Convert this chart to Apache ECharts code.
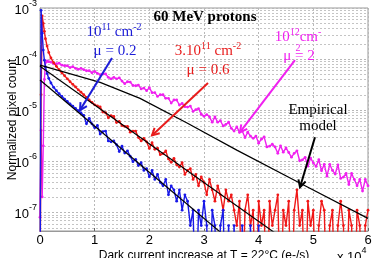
<!DOCTYPE html>
<html><head><meta charset="utf-8">
<script src="https://cdn.jsdelivr.net/npm/echarts@6.0.0/dist/echarts.min.js"></script>
<style>html,body{margin:0;padding:0;background:#fff;}#c{width:372px;height:258px;}</style>
</head><body><div id="c"></div>
<script>
// x positions (units of 1e4 e-/s)
const xs = [0,0.02,0.04,0.06,0.08,0.1,0.13,0.16,
0.2,0.25,0.3,0.35,0.4,0.45,0.5,0.55,0.6,0.65,0.7,0.75,
0.8,0.85,0.9,0.95,1.0,1.05,1.1,1.15,1.2,1.25,1.3,1.35,1.4,1.45,1.5,1.55,1.6,1.65,1.7,1.75,
1.8,1.85,1.9,1.95,2.0,2.05,2.1,2.15,2.2,2.25,2.3,2.35,2.4,2.45,2.5,2.55,2.6,2.65,2.7,2.75,
2.8,2.85,2.9,2.95,3.0,3.05,3.1,3.15,3.2,3.25,3.3,3.35,3.4,3.45,3.5,3.55,3.6,3.65,3.7,3.75,
3.8,3.85,3.9,3.95,4.0,4.05,4.1,4.15,4.2,4.25,4.3,4.35,4.4,4.45,4.5,4.55,4.6,4.65,4.7,4.75,
4.8,4.85,4.9,4.95,5.0,5.05,5.1,5.15,5.2,5.25,5.3,5.35,5.4,5.45,5.5,5.55,5.6,5.65,5.7,5.75,
5.8,5.85,5.9,5.95,6.0];
const ZERO = 1e-9; // empty bin (drawn off-scale)
const blue = [ZERO,9e-4,3.2e-4,1.5e-4,9.5e-5,7e-5,5.2e-5,4.2e-5,
3.4e-5,2.8e-5,2.4e-5,2.1e-5,1.85e-5,1.65e-5,1.48e-5,1.32e-5,1.2e-5,1.08e-5,9.8e-6,8.8e-6,
7.9e-6,5.4e-6,6.9e-6,5.4e-6,4.5e-6,5.0e-6,3.4e-6,3.8e-6,3.9e-6,2.5e-6,2.4e-6,2.5e-6,2.1e-6,1.55e-6,1.97e-6,1.44e-6,1.6e-6,1.25e-6,9.8e-7,1.09e-6,
8.25e-7,9.35e-7,6.6e-7,7.15e-7,4.95e-7,6.6e-7,4.4e-7,5.5e-7,3.85e-7,3.3e-7,4.4e-7,2.2e-7,3.3e-7,2.75e-7,1.65e-7,2.75e-7,1.1e-7,2.2e-7,1.65e-7,5.5e-8,
1.1e-7,ZERO,1.1e-7,5.5e-8,1.65e-7,5.5e-8,ZERO,1.1e-7,5.5e-8,ZERO,5.5e-8,1.1e-7,ZERO,5.5e-8,ZERO,5.5e-8,ZERO,ZERO,5.5e-8,ZERO,
ZERO,5.5e-8,ZERO,ZERO,5.5e-8,ZERO];
const red = [ZERO,2e-5,7e-4,5e-4,3.5e-4,2.5e-4,1.8e-4,1.35e-4,
1.05e-4,8.5e-5,7.2e-5,6.2e-5,5.4e-5,4.7e-5,4.1e-5,3.6e-5,3.2e-5,2.85e-5,2.5e-5,2.25e-5,
2.0e-5,1.78e-5,1.58e-5,1.42e-5,1.27e-5,1.21e-5,1.16e-5,9.2e-6,8.9e-6,7.1e-6,7.8e-6,7.5e-6,5.7e-6,6.0e-6,5.0e-6,4.8e-6,4.8e-6,3.7e-6,3.9e-6,3.9e-6,
2.9e-6,2.5e-6,2.8e-6,2.4e-6,1.78e-6,2.3e-6,1.71e-6,1.8e-6,1.34e-6,1.41e-6,1.59e-6,1.11e-6,9.5e-7,1.14e-6,8.5e-7,7.7e-7,9.35e-7,5.5e-7,6.6e-7,7.15e-7,
4.4e-7,5.5e-7,3.3e-7,4.95e-7,3.85e-7,2.2e-7,4.4e-7,2.75e-7,1.65e-7,3.3e-7,2.2e-7,1.1e-7,2.75e-7,1.65e-7,2.2e-7,1.1e-7,5.5e-8,1.65e-7,ZERO,1.1e-7,
2.2e-7,5.5e-8,1.1e-7,ZERO,1.65e-7,5.5e-8,1.1e-7,ZERO,1.65e-7,5.5e-8,1.1e-7,2.2e-7,ZERO,1.1e-7,5.5e-8,1.65e-7,ZERO,1.1e-7,2.75e-7,5.5e-8,
1.1e-7,ZERO,1.65e-7,5.5e-8,1.1e-7,ZERO,5.5e-8,1.65e-7,1.1e-7,ZERO,5.5e-8,1.1e-7,ZERO,5.5e-8,1.65e-7,5.5e-8,ZERO,1.1e-7,5.5e-8,ZERO,
1.1e-7,5.5e-8,ZERO,5.5e-8,1.1e-7];
const magenta = [8e-8,4e-6,2e-7,2e-6,4e-5,8.5e-5,9.2e-5,8.9e-5,
8.7e-5,8.1e-5,8.1e-5,8.3e-5,7.6e-5,7.4e-5,7.4e-5,6.8e-5,7.1e-5,6.6e-5,6.3e-5,6.6e-5,
6.2e-5,5.9e-5,5.9e-5,5.4e-5,5.75e-5,5.25e-5,4.95e-5,5.1e-5,5.1e-5,4.4e-5,4.1e-5,4.4e-5,4.1e-5,4.3e-5,3.7e-5,3.3e-5,3.6e-5,3.55e-5,3.05e-5,3.0e-5,
3.1e-5,2.6e-5,2.7e-5,2.4e-5,2.75e-5,2.2e-5,2.2e-5,1.86e-5,2.0e-5,2.0e-5,1.7e-5,1.7e-5,1.38e-5,1.58e-5,1.58e-5,1.26e-5,1.35e-5,1.17e-5,1.15e-5,1.2e-5,
9.5e-6,1.02e-5,1.07e-5,8.3e-6,7.6e-6,8.2e-6,7.4e-6,5.8e-6,7.4e-6,5.8e-6,6.2e-6,4.9e-6,5.25e-6,5.8e-6,4.4e-6,3.9e-6,4.7e-6,3.7e-6,3.9e-6,2.9e-6,
3.7e-6,3.1e-6,2.8e-6,3.1e-6,2.25e-6,2.7e-6,3.0e-6,1.9e-6,1.97e-6,2.15e-6,1.9e-6,1.43e-6,2.0e-6,1.5e-6,1.82e-6,1.48e-6,1.2e-6,1.43e-6,1.6e-6,1.02e-6,
1.06e-6,1.19e-6,8.0e-7,1.15e-6,9.3e-7,7.9e-7,1.07e-6,6.5e-7,8.7e-7,5.1e-7,8.7e-7,6.6e-7,5.6e-7,8.5e-7,4.6e-7,4.9e-7,5.75e-7,3.5e-7,5.75e-7,4.4e-7,
3.3e-7,4.4e-7,2.6e-7,4.4e-7,3.3e-7];
// empirical model curves
const modelBlueX = [0, 3.4];
const modelBlueY = [3.9e-5, 3.3e-8];
const modelRedX = [0, 4.4];
const modelRedY = [7.2e-5, 3.3e-8];
const modelMagX = [0, 1.1, 1.83, 2.69, 3.6, 4.76, 6.0];
const modelMagY = [7.6e-5, 3.5e-5, 1.7e-5, 5.6e-6, 1.65e-6, 3.7e-7, 7.6e-8];
const yMin = 4.3e-8, yMax = 1e-3;
const xMin = 0, xMax = 6;
const decades = [-8,-7,-6,-5,-4];
const minorMult = [2,3,4,5,6,7,8,9];
// annotation arrows in data coordinates [from, to]
const arrowBlue = [[1.317, 1.05e-4], [0.732, 1.0e-5]];
const arrowRed = [[3.073, 3.4e-5], [2.049, 3.2e-6]];
const arrowMag = [[4.664, 9.5e-5], [3.658, 3.7e-6]];
const arrowModel = [[5.03, 2.95e-6], [4.756, 3.1e-7]];

function pts(xa, ya) { return ya.map((v, i) => [xa[i], v]); }
const chart = echarts.init(document.getElementById('c'), null, {renderer: 'canvas'});
const SANS = 'Liberation Sans, Arial, sans-serif';
const SERIF = 'Liberation Serif, Times New Roman, serif';
const gridLine = {show: true, lineStyle: {color: '#b8b8b8', type: [2, 2], width: 1}};
function dataSeries(name, ys, color, z) {
  return {name, type: 'line', data: pts(xs, ys), z, clip: true, showAllSymbol: true,
    symbol: 'circle', symbolSize: 2.8, itemStyle: {color},
    lineStyle: {color, width: 1.4}, animation: false, silent: true};
}
function modelSeries(xa, ya) {
  return {type: 'line', data: pts(xa, ya), z: 10, clip: true, symbol: 'none',
    lineStyle: {color: '#000', width: 1.2}, animation: false, silent: true};
}
const option = {
  animation: false,
  backgroundColor: '#fff',
  grid: {left: 40, right: 4, top: 8, bottom: 27, show: true, borderColor: '#999', borderWidth: 1, containLabel: false, outerBoundsMode: 'none'},
  xAxis: {type: 'value', min: xMin, max: xMax, interval: 1,
    axisLine: {show: true, lineStyle: {color: '#999'}},
    axisTick: {show: true, inside: true, length: 3, lineStyle: {color: '#666'}},
    axisLabel: {fontFamily: SANS, fontSize: 13, color: '#000', margin: 3},
    splitLine: gridLine,
    name: 'Dark current increase at T = 22°C (e-/s)', nameLocation: 'middle', nameGap: 19, nameMoveOverlap: false,
    nameTextStyle: {fontFamily: SANS, fontSize: 12, color: '#000'}},
  yAxis: {type: 'log', logBase: 10, min: yMin, max: yMax,
    axisLine: {show: true, lineStyle: {color: '#999'}},
    axisTick: {show: false},
    axisLabel: {margin: 3, formatter: v => { const e = Math.log10(v); const r = Math.round(e); if (Math.abs(e - r) > 1e-6) return ''; return '{b|10}{s|' + r + '}'; },
      rich: {b: {fontFamily: SANS, fontSize: 13, color: '#000', lineHeight: 18, verticalAlign: 'bottom'},
             s: {fontFamily: SANS, fontSize: 9, color: '#000', lineHeight: 10, verticalAlign: 'top'}}},
    splitLine: gridLine,
    name: 'Normalized pixel count', nameLocation: 'middle', nameGap: 21, nameMoveOverlap: false,
    nameTextStyle: {fontFamily: SANS, fontSize: 12, color: '#000'}},
  series: [
    dataSeries('1e12', magenta, '#f020f0', 3),
    dataSeries('3e11', red, '#f01818', 4),
    dataSeries('1e11', blue, '#1818e8', 5),
    modelSeries(modelBlueX, modelBlueY),
    modelSeries(modelRedX, modelRedY),
    modelSeries(modelMagX, modelMagY)
  ]
};
chart.setOption(option);

function txt(id, x, y, text, rich, align) {
  return {type: 'text', id, x, y, z: 100, silent: true,
    style: {text, rich, align: align || 'center', verticalAlign: 'middle'}};
}
function serifRich(color) {
  return {b: {fontFamily: SERIF, fontSize: 15, fill: color, lineHeight: 18, verticalAlign: 'bottom'},
          s: {fontFamily: SERIF, fontSize: 10, fill: color, lineHeight: 10, verticalAlign: 'top'}};
}
function arrow(id, a, color) {
  const p0 = chart.convertToPixel({gridIndex: 0}, a[0]);
  const p1 = chart.convertToPixel({gridIndex: 0}, a[1]);
  const dx = p0[0] - p1[0], dy = p0[1] - p1[1];
  const L = Math.hypot(dx, dy), ux = dx / L, uy = dy / L;
  const h = 8, ang = 28 * Math.PI / 180, c = Math.cos(ang), s = Math.sin(ang);
  const w1 = [p1[0] + h * (ux * c - uy * s), p1[1] + h * (ux * s + uy * c)];
  const w2 = [p1[0] + h * (ux * c + uy * s), p1[1] + h * (-ux * s + uy * c)];
  return [
    {type: 'polyline', id: id + 's', z: 90, silent: true, shape: {points: [p0, p1]}, style: {stroke: color, lineWidth: 2, fill: null}},
    {type: 'polyline', id: id + 'h', z: 90, silent: true, shape: {points: [w1, p1, w2]}, style: {stroke: color, lineWidth: 2, fill: null}}
  ];
}
// minor log grid lines, positioned through the y scale
const minorLines = [];
const gx0 = chart.convertToPixel({xAxisIndex: 0}, xMin), gx1 = chart.convertToPixel({xAxisIndex: 0}, xMax);
decades.forEach(d => minorMult.forEach(m => {
  const v = m * Math.pow(10, d);
  if (v > yMin && v < yMax) {
    const py = Math.round(chart.convertToPixel({yAxisIndex: 0}, v)) + 0.5;
    minorLines.push({type: 'line', z: 1, silent: true, shape: {x1: gx0, y1: py, x2: gx1, y2: py},
      style: {stroke: '#c4c4c4', lineWidth: 1, lineDash: [2, 2]}});
  }
}));
const BLUE = '#1c1cd8', RED = '#e81c1c', MAG = '#f020f0';
const graphics = [].concat(minorLines,
  arrow('ab', arrowBlue, BLUE), arrow('ar', arrowRed, RED), arrow('am', arrowMag, MAG), arrow('ak', arrowModel, '#000'),
  [
    {type: 'text', id: 'title', x: 205, y: 17, z: 100, silent: true,
      style: {text: '60 MeV protons', fontFamily: SERIF, fontSize: 15, fontWeight: 'bold', fill: '#000', align: 'center', verticalAlign: 'middle'}},
    txt('t1a', 114, 31, '{b|10}{s|11}{b| cm}{s|-2}', serifRich(BLUE)),
    txt('t1b', 115, 50, '{b|μ = 0.2}', serifRich(BLUE)),
    txt('t2a', 208, 50, '{b|3.10}{s|11}{b| cm}{s|-2}', serifRich(RED)),
    txt('t2b', 208, 69, '{b|μ = 0.6}', serifRich(RED)),
    txt('t3a', 298, 36, '{b|10}{s|12}{b|cm}{s|-}', serifRich(MAG)),
    txt('t3b', 299, 55, '{b|μ = 2}', serifRich(MAG)),
    txt('t3c', 298, 48, '{s|2}', serifRich(MAG)),
    txt('t4a', 318, 109, '{b|Empirical}', serifRich('#000')),
    txt('t4b', 318, 125, '{b|model}', serifRich('#000')),
    txt('xexp', 337, 255, '{b|x 10}{s|4}', {b: {fontFamily: SANS, fontSize: 13, fill: '#000', lineHeight: 18, verticalAlign: 'bottom'}, s: {fontFamily: SANS, fontSize: 9, fill: '#000', lineHeight: 10, verticalAlign: 'top'}}, 'left')
  ]);
chart.setOption({graphic: graphics});
</script></body></html>
